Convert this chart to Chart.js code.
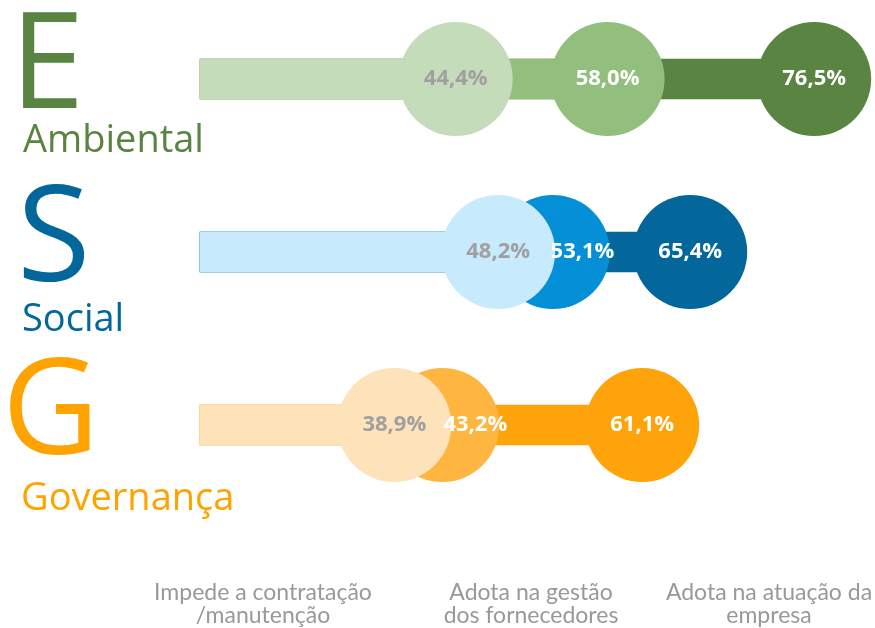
<!DOCTYPE html>
<html>
<head>
<meta charset="utf-8">
<script src="https://cdn.jsdelivr.net/npm/chart.js@4"></script>
<style>
  html, body { margin: 0; padding: 0; background: #ffffff; }
  #wrap { width: 875px; height: 628px; position: relative; }
</style>
</head>
<body>
<div id="wrap"><canvas id="c" width="875" height="628"></canvas></div>
<script>
// ---- data ----
const rowLabels = ['E', 'S', 'G'];
const rowNames = ['Ambiental', 'Social', 'Governança'];
const seriesNames = [
  ['Impede a contratação', '/manutenção'],
  ['Adota na gestão', 'dos fornecedores'],
  ['Adota na atuação da', 'empresa']
];
const impede = [44.4, 48.2, 38.9];   // Impede a contratação/manutenção
const gestao = [58.0, 53.1, 43.2];   // Adota na gestão dos fornecedores
const atuacao = [76.5, 65.4, 61.1];  // Adota na atuação da empresa

// ---- styles ----
const lightColors = ['#C4DCB9', '#C7EBFC', '#FEE3BA'];
const midColors   = ['#93BF7E', '#048FD6', '#FEB641'];
const darkColors  = ['#5A8442', '#03679C', '#FEA309'];
const rowTextColors = ['#5A8442', '#03679C', '#FFA300'];
const X_MIN = 21.5, X_MAX = 81.5;
const DOT_R = 57;

function fmt(v) { return v.toFixed(1).replace('.', ',') + '%'; }

function barDs(values, colors, order) {
  return {
    type: 'bar', indexAxis: 'y', data: values, base: X_MIN,
    backgroundColor: colors, borderColor: colors, borderWidth: 0, barThickness: 40,
    grouped: false, order: order, clip: false
  };
}
function dotDs(values, colors, order, textColor) {
  return {
    type: 'scatter',
    data: values.map((v, i) => ({ x: v, y: rowLabels[i] })),
    pointBackgroundColor: colors, pointBorderWidth: 0, pointBorderColor: colors,
    pointRadius: DOT_R, pointHoverRadius: DOT_R, showLine: false,
    order: order, clip: false, labelColor: textColor
  };
}

const esgPlugin = {
  id: 'esg',
  afterDatasetsDraw(chart) {
    const ctx = chart.ctx;
    ctx.save();
    ctx.font = 'bold 22px "Open Sans"';
    ctx.textAlign = 'center';
    ctx.textBaseline = 'middle';
    let prevMeta = null;
    chart.data.datasets.forEach((ds, di) => {
      if (ds.type !== 'scatter') return;
      const meta = chart.getDatasetMeta(di);
      meta.data.forEach((pt, i) => {
        let lx = pt.x;
        if (prevMeta) {
          const prevRight = prevMeta.data[i].x + DOT_R;
          if (prevRight > pt.x - DOT_R) lx = (prevRight + pt.x + DOT_R) / 2;
        }
        ctx.fillStyle = ds.labelColor;
        ctx.fillText(fmt(ds.data[i].x), lx, pt.y);
      });
      prevMeta = meta;
    });
    ctx.restore();
  },
  afterDraw(chart) {
    const ctx = chart.ctx;
    const yScale = chart.scales.y;
    const letterLeft = [23, 23, 10];
    const nameOffset = [73, 79, 85];
    ctx.save();
    ctx.textAlign = 'left';
    ctx.textBaseline = 'alphabetic';
    rowLabels.forEach((lab, i) => {
      const cy = yScale.getPixelForValue(i);
      ctx.fillStyle = rowTextColors[i];
      ctx.font = '134px "Open Sans"';
      let m = ctx.measureText(lab);
      ctx.fillText(lab, letterLeft[i] + m.actualBoundingBoxLeft, cy + 29);
      ctx.font = '38px "Open Sans"';
      m = ctx.measureText(rowNames[i]);
      ctx.fillText(rowNames[i], 23 + m.actualBoundingBoxLeft, cy + nameOffset[i]);
    });
    // series names along the bottom
    const centers = [263, 531, 769];
    ctx.textAlign = 'center';
    ctx.fillStyle = '#999999';
    ctx.font = '23px Lato';
    seriesNames.forEach((lines, s) => {
      lines.forEach((ln, k) => {
        ctx.fillText(ln, centers[s], 600 + k * 23);
      });
    });
    ctx.restore();
  }
};

new Chart(document.getElementById('c'), {
  type: 'bar',
  data: {
    labels: rowLabels,
    datasets: [
      barDs(impede, lightColors, 2),
      dotDs(impede, lightColors, 1, '#A0A0A0'),
      barDs(gestao, midColors, 4),
      dotDs(gestao, midColors, 3, '#FFFFFF'),
      barDs(atuacao, darkColors, 6),
      dotDs(atuacao, darkColors, 5, '#FFFFFF')
    ]
  },
  options: {
    responsive: false,
    animation: false,
    events: [],
    layout: { autoPadding: false, padding: { left: 200, right: 5, top: 79, bottom: 203 } },
    plugins: { legend: { display: false }, tooltip: { enabled: false } },
    scales: {
      x: { type: 'linear', min: X_MIN, max: X_MAX, offset: false, grid: { offset: false }, display: false },
      y: { type: 'category', labels: rowLabels, offset: false, grid: { offset: false }, display: false }
    }
  },
  plugins: [esgPlugin]
});
</script>
</body>
</html>
